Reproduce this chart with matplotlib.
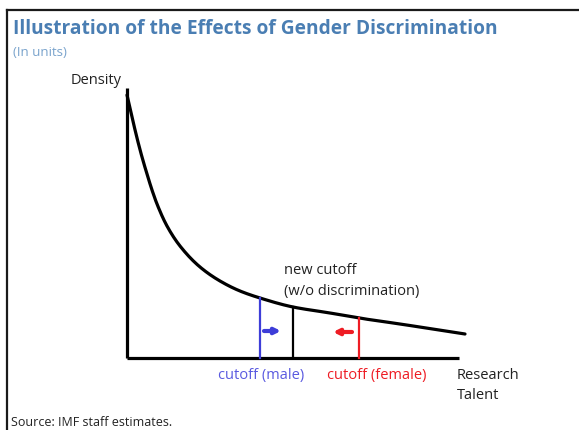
import numpy as np
import matplotlib
matplotlib.use("Agg")
import matplotlib.pyplot as plt
from matplotlib.lines import Line2D

# density curve (arbitrary units)
talent = [0, 0.5, 1.0, 1.5, 2.0, 2.5, 3.0, 4.0, 5.3, 7.3, 9.3, 11.3, 13.3, 16.6, 20.3, 23.2, 27.3, 33.8]
density = [26.3, 24.1, 22.0, 20.1, 18.4, 16.8, 15.4, 13.2, 11.2, 9.1, 7.7, 6.7, 6.0, 5.1, 4.5, 4.0, 3.4, 2.4]

axis_end_x = 33.2
axis_end_y = 27.0

cutoff_male = 13.3
cutoff_new = 16.6
cutoff_female = 23.2

blue = "#3d3dd8"
red = "#ee1c24"
title_color = "#4a7eb3"
sub_color = "#79a3cc"


def smooth(xs, ys, n=400):
    # monotone cubic (Fritsch-Carlson) through the read points, only for drawing
    x = np.asarray(xs, float)
    y = np.asarray(ys, float)
    h = np.diff(x)
    d = np.diff(y) / h
    m = np.zeros_like(x)
    m[0], m[-1] = d[0], d[-1]
    for i in range(1, len(x) - 1):
        if d[i - 1] * d[i] > 0:
            w1 = 2 * h[i] + h[i - 1]
            w2 = h[i] + 2 * h[i - 1]
            m[i] = (w1 + w2) / (w1 / d[i - 1] + w2 / d[i])
    xx = np.linspace(x[0], x[-1], n)
    k = np.clip(np.searchsorted(x, xx) - 1, 0, len(x) - 2)
    t = (xx - x[k]) / h[k]
    h00 = 2 * t ** 3 - 3 * t ** 2 + 1
    h10 = t ** 3 - 2 * t ** 2 + t
    h01 = -2 * t ** 3 + 3 * t ** 2
    h11 = t ** 3 - t ** 2
    yy = h00 * y[k] + h10 * h[k] * m[k] + h01 * y[k + 1] + h11 * h[k] * m[k + 1]
    return xx, yy


fig = plt.figure(figsize=(5.79, 4.30), dpi=100)
ax = fig.add_axes([0, 0, 1, 1])
ax.set_xlim(-12.7, 45.2)
ax.set_ylim(-7.2, 35.8)
ax.axis("off")

# frame of the figure (top and left only)
fig.add_artist(Line2D([7 / 579, 1], [1 - 10 / 430, 1 - 10 / 430], color="#1a1a1a", lw=1.6))
fig.add_artist(Line2D([7 / 579, 7 / 579], [0, 1 - 10 / 430], color="#1a1a1a", lw=1.6))

fig.text(13 / 579, 1 - 29 / 430, "Illustration of the Effects of Gender Discrimination",
         fontsize=13.8, fontweight="bold", color=title_color, family="Open Sans", va="center")
fig.text(13 / 579, 1 - 52 / 430, "(In units)", fontsize=9.5, color=sub_color,
         family="Open Sans", va="center")
fig.text(11 / 579, 1 - 423 / 430, "Source: IMF staff estimates.", fontsize=9,
         color="#222222", family="Open Sans", va="center")

# axes
ax.plot([0, 0], [0, axis_end_y], color="black", lw=2.3, solid_capstyle="butt")
ax.plot([0, axis_end_x], [0, 0], color="black", lw=2.3, solid_capstyle="butt")

cx, cy = smooth(talent, density)
ax.plot(cx, cy, color="black", lw=2.3, solid_capstyle="round")

for c, col in ((cutoff_male, blue), (cutoff_new, "black"), (cutoff_female, red)):
    ax.plot([c, c], [0, np.interp(c, cx, cy)], color=col, lw=1.6)

ax.annotate("", xy=(cutoff_male + 2.1, 2.7), xytext=(cutoff_male + 0.4, 2.7),
            arrowprops=dict(arrowstyle="-|>", color=blue, lw=3, mutation_scale=8,
                            shrinkA=0, shrinkB=0))
ax.annotate("", xy=(cutoff_female - 2.6, 2.6), xytext=(cutoff_female - 0.7, 2.6),
            arrowprops=dict(arrowstyle="-|>", color=red, lw=3, mutation_scale=8,
                            shrinkA=0, shrinkB=0))

lab = dict(fontsize=10.5, family="Open Sans")
ax.text(-0.5, 27.8, "Density", ha="right", va="center", color="#222222", **lab)
ax.text(15.7, 7.7, "new cutoff\n(w/o discrimination)", ha="left", va="center",
        color="#222222", linespacing=1.55, **lab)
ax.text(cutoff_male - 4.2, -1.7, "cutoff (male)", ha="left", va="center", color="#5a5ae0", **lab)
ax.text(cutoff_female - 3.2, -1.7, "cutoff (female)", ha="left", va="center", color=red, **lab)
ax.text(axis_end_x - 0.2, -2.75, "Research\nTalent", ha="left", va="center", color="#222222",
        linespacing=1.5, **lab)

fig.savefig("out.png", dpi=100)
